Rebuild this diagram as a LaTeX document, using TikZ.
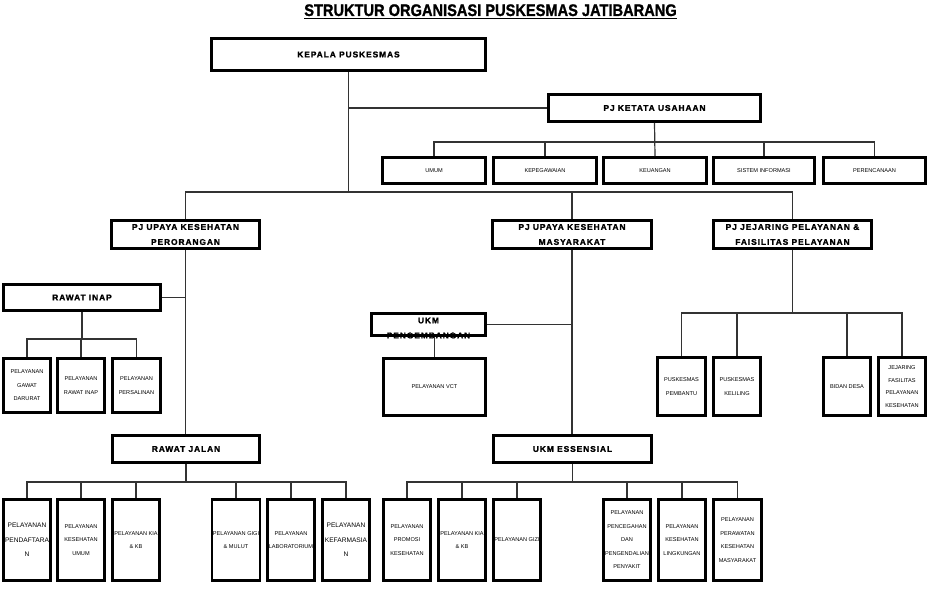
\documentclass[tikz,border=0pt]{standalone}
\usepackage{fontspec}
\setmainfont{Liberation Sans}
\newfontfamily\judulfont[FakeStretch=0.87,FakeBold=1.2]{Liberation Sans}
\newfontfamily\headfont[LetterSpace=11,FakeBold=1.5]{Liberation Sans}
\begin{document}
\begin{tikzpicture}[x=1pt,y=-1pt,
    kotak/.style={draw, line width=2.6pt, inner sep=1pt, align=center},
    kotakutama/.style={kotak, font=\headfont\bfseries\fontsize{8.4}{15}\selectfont},
    kotakunit/.style={kotak, font=\fontsize{5.6}{13.5}\selectfont, minimum width=47.5pt},
    garis/.style={draw=black!80, line width=1.2pt}]
    \useasboundingbox (0,0) rectangle (938,596);
    \node[font=\judulfont\bfseries\fontsize{16.8}{20}\selectfont, anchor=base, inner sep=0pt] (judul) at (490.5,16) {STRUKTUR ORGANISASI PUSKESMAS JATIBARANG};
    \draw[line width=1.6pt] ([yshift=-2.5pt]judul.base west) -- ([yshift=-2.5pt]judul.base east);
    \node[kotakutama, minimum width=274, minimum height=32] (kapus) at (348.5,54.5) {KEPALA PUSKESMAS};
    \node[kotakutama, minimum width=212, minimum height=27] (ktu) at (654.5,108) {PJ KETATA USAHAAN};
    \node[kotakunit, minimum width=103, minimum height=26] (umum) at (434,170.5) {UMUM};
    \node[kotakunit, minimum width=103, minimum height=26] (pegawai) at (545,170.5) {KEPEGAWAIAN};
    \node[kotakunit, minimum width=103, minimum height=26] (uang) at (655,170.5) {KEUANGAN};
    \node[kotakunit, minimum width=101, minimum height=26] (sim) at (764,170.5) {SISTEM INFORMASI};
    \node[kotakunit, minimum width=102, minimum height=26] (rencana) at (874.5,170.5) {PERENCANAAN};
    \node[kotakutama, minimum width=148, minimum height=28] (ukp) at (185.5,234.5) {PJ UPAYA KESEHATAN\\PERORANGAN};
    \node[kotakutama, minimum width=159, minimum height=28] (ukm) at (572,234.5) {PJ UPAYA KESEHATAN\\MASYARAKAT};
    \node[kotakutama, minimum width=158, minimum height=28] (jejaring) at (792.5,234.5) {PJ JEJARING PELAYANAN \&\\FAISILITAS PELAYANAN};
    \node[kotakutama, minimum width=157, minimum height=26] (rinap) at (82,297.5) {RAWAT INAP};
    \node[kotakunit, minimum height=54] (gd) at (27,385.5) {PELAYANAN\\GAWAT\\DARURAT};
    \node[kotakunit, minimum height=54] (ri) at (81,385.5) {PELAYANAN\\RAWAT INAP};
    \node[kotakunit, minimum height=54] (ps) at (136.5,385.5) {PELAYANAN\\PERSALINAN};
    \node[kotakutama, minimum width=147, minimum height=27] (rjalan) at (186,449) {RAWAT JALAN};
    \node[kotakunit, minimum height=81, font=\fontsize{6.6}{14.5}\selectfont] (daftar) at (27,540) {PELAYANAN\\PENDAFTARA\\N};
    \node[kotakunit, minimum height=81] (kesum) at (81,540) {PELAYANAN\\KESEHATAN\\UMUM};
    \node[kotakunit, minimum height=81] (kia) at (136,540) {PELAYANAN KIA\\\& KB};
    \node[kotakunit, minimum height=81] (gigi) at (236,540) {PELAYANAN GIGI\\\& MULUT};
    \node[kotakunit, minimum height=81] (lab) at (291,540) {PELAYANAN\\LABORATORIUM};
    \node[kotakunit, minimum height=81, font=\fontsize{6.6}{14.5}\selectfont] (farmasi) at (346,540) {PELAYANAN\\KEFARMASIA\\N};
    \node[kotak, minimum width=114, minimum height=22] (ukmp) at (428.5,324.5) {};
    \node[font=\headfont\bfseries\fontsize{8.4}{15}\selectfont, align=center, inner sep=0pt] (ukmptxt) at (428.5,328) {UKM\\PENGEMBANGAN};
    \node[kotakunit, minimum width=102, minimum height=57] (vct) at (434.5,387) {PELAYANAN VCT};
    \node[kotakutama, minimum width=158, minimum height=27] (ukme) at (572.5,449) {UKM ESSENSIAL};
    \node[kotakunit, minimum height=81] (promkes) at (407,540) {PELAYANAN\\PROMOSI\\KESEHATAN};
    \node[kotakunit, minimum height=81] (kiakb) at (462,540) {PELAYANAN KIA\\\& KB};
    \node[kotakunit, minimum height=81] (gizi) at (517,540) {PELAYANAN GIZI};
    \node[kotakunit, minimum height=81] (ppp) at (627,540) {PELAYANAN\\PENCEGAHAN\\DAN\\PENGENDALIAN\\PENYAKIT};
    \node[kotakunit, minimum height=81] (kesling) at (682,540) {PELAYANAN\\KESEHATAN\\LINGKUNGAN};
    \node[kotakunit, minimum height=81] (perkesmas) at (737.5,540) {PELAYANAN\\PERAWATAN\\KESEHATAN\\MASYARAKAT};
    \node[kotakunit, minimum height=58] (pustu) at (681.5,386.5) {PUSKESMAS\\PEMBANTU};
    \node[kotakunit, minimum height=58] (pusling) at (737,386.5) {PUSKESMAS\\KELILING};
    \node[kotakunit, minimum height=58] (bidan) at (847,386.5) {BIDAN DESA};
    \node[kotakunit, minimum height=58, font=\fontsize{5.6}{12.5}\selectfont] (jfk) at (902,386.5) {JEJARING\\FASILITAS\\PELAYANAN\\KESEHATAN};
    \coordinate (cabang) at (348.5,192);
    \coordinate (tubus) at (655,142);
    \coordinate (inapbus) at (82,339);
    \coordinate (jalanbus) at (186,482);
    \coordinate (esbus) at (572.5,482);
    \coordinate (jejbus) at (792.5,313);
    \draw[garis] (kapus.south) -- (cabang);
    \draw[garis] (ukp.north) |- (cabang) -| (jejaring.north);
    \draw[garis] (ukm.north) -- (ukm.north |- cabang);
    \draw[garis] (ktu.west) -- (ktu.west -| kapus.south);
    \draw[garis] (ktu.south) -- (uang.north);
    \draw[garis] (umum.north) |- (tubus) -| (rencana.north);
    \draw[garis] (pegawai.north) -- (pegawai.north |- tubus);
    \draw[garis] (sim.north) -- (sim.north |- tubus);
    \draw[garis] (ukp.south) -- (ukp.south |- rjalan.north);
    \draw[garis] (rinap.east) -- (rinap.east -| ukp.south);
    \draw[garis] (rinap.south) -- (inapbus);
    \draw[garis] (gd.north) |- (inapbus) -| (ps.north);
    \draw[garis] (ri.north) -- (ri.north |- inapbus);
    \draw[garis] (rjalan.south) -- (jalanbus);
    \draw[garis] (daftar.north) |- (jalanbus) -| (farmasi.north);
    \draw[garis] (kesum.north) -- (kesum.north |- jalanbus);
    \draw[garis] (kia.north) -- (kia.north |- jalanbus);
    \draw[garis] (gigi.north) -- (gigi.north |- jalanbus);
    \draw[garis] (lab.north) -- (lab.north |- jalanbus);
    \draw[garis] (ukm.south) -- (ukm.south |- ukme.north);
    \draw[garis] (ukmp.east) -- (ukmp.east -| ukm.south);
    \draw[garis] (ukmp.south -| vct.north) -- (vct.north);
    \draw[garis] (ukme.south) -- (esbus);
    \draw[garis] (promkes.north) |- (esbus) -| (perkesmas.north);
    \draw[garis] (kiakb.north) -- (kiakb.north |- esbus);
    \draw[garis] (gizi.north) -- (gizi.north |- esbus);
    \draw[garis] (ppp.north) -- (ppp.north |- esbus);
    \draw[garis] (kesling.north) -- (kesling.north |- esbus);
    \draw[garis] (jejaring.south) -- (jejbus);
    \draw[garis] (pustu.north) |- (jejbus) -| (jfk.north);
    \draw[garis] (pusling.north) -- (pusling.north |- jejbus);
    \draw[garis] (bidan.north) -- (bidan.north |- jejbus);
  \end{tikzpicture}
\end{document}
